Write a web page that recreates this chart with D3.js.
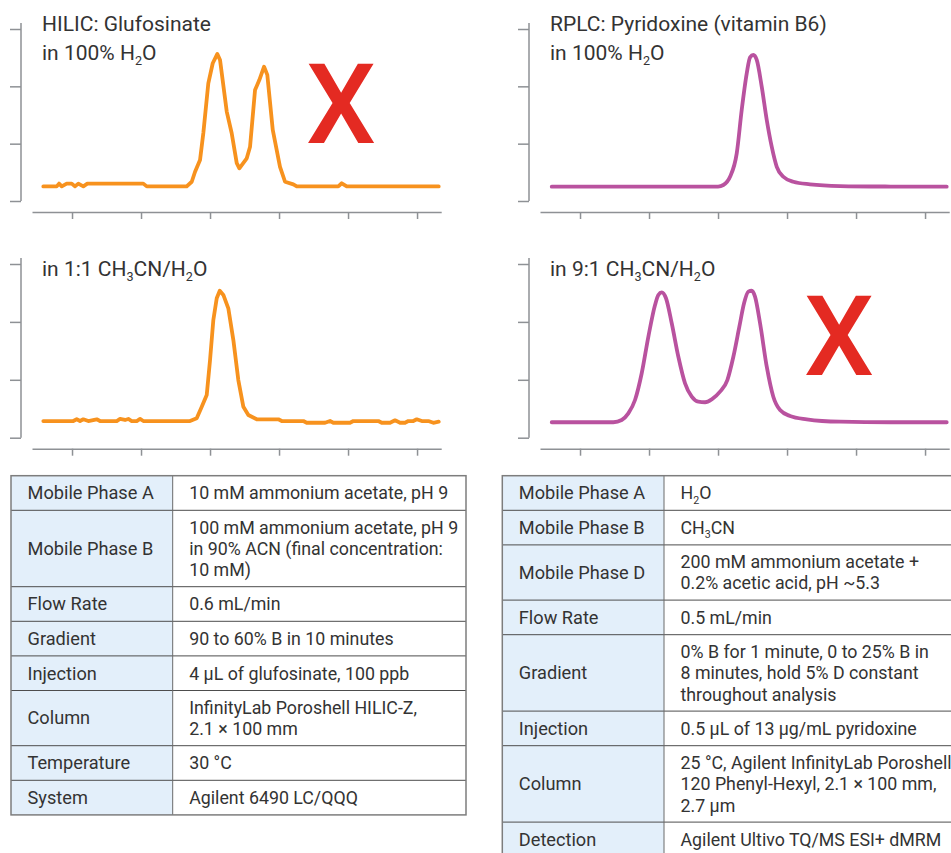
<!DOCTYPE html>
<html>
<head>
<meta charset="utf-8">
<script src="https://cdn.jsdelivr.net/npm/d3@7"></script>
<style>
  html, body { margin: 0; padding: 0; background: #fff; }
  svg { display: block; font-family: Roboto, "Noto Sans", sans-serif; }
</style>
</head>
<body>
<svg id="chart" width="951" height="853"></svg>
<script>
// Retention-time ticks (min) shared by all four chromatograms
const timeTicks = [1, 2, 3, 4, 5, 6];
// Relative intensity ticks (no labels shown)
const intensityTicks = [0, 100 / 3, 200 / 3, 100];

// HILIC glufosinate, injected in 100% water: split peak
const glufWater = [
  [0.584, 8.5], [0.778, 8.5], [0.812, 10.1], [0.851, 8.5], [0.923, 10.1], [0.996, 10.1],
  [1.043, 8.5], [1.091, 10.1], [1.164, 8.5], [1.222, 10.1], [2.033, 10.1], [2.083, 8.5],
  [2.662, 8.5], [2.735, 11.2], [2.783, 17.0], [2.855, 23.8], [2.903, 39.5], [2.975, 68.4],
  [3.039, 80.1], [3.106, 85.5], [3.145, 82.0], [3.242, 52.0], [3.314, 39.4], [3.387, 22.0],
  [3.425, 19.0], [3.532, 24.8], [3.580, 31.6], [3.652, 64.5], [3.714, 70.3], [3.783, 78.1],
  [3.830, 73.3], [3.909, 41.3], [4.014, 19.9], [4.087, 11.2], [4.207, 9.7], [4.257, 8.5],
  [4.859, 8.5], [4.909, 10.3], [4.981, 8.5], [6.314, 8.5]
];

// HILIC glufosinate, injected in 1:1 acetonitrile/water: single peak
const glufMixed = [
  [0.584, 9.6], [1.019, 9.6], [1.068, 10.6], [1.116, 9.6], [1.164, 10.6], [1.236, 9.6],
  [1.358, 10.6], [1.406, 9.6], [1.648, 9.6], [1.696, 10.8], [1.768, 10.2], [1.816, 10.8],
  [1.865, 9.6], [1.938, 9.6], [1.986, 10.8], [2.033, 9.6], [2.710, 9.6], [2.807, 11.2],
  [2.880, 17.8], [2.952, 24.6], [3.000, 44.7], [3.048, 67.8], [3.097, 80.3], [3.141, 84.6],
  [3.193, 82.2], [3.265, 74.5], [3.338, 56.2], [3.410, 33.2], [3.483, 17.8], [3.555, 13.1],
  [3.677, 10.6], [3.990, 10.6], [4.039, 9.6], [4.352, 9.6], [4.401, 8.6], [4.667, 8.6],
  [4.739, 9.6], [4.787, 8.6], [5.029, 8.6], [5.077, 9.6], [5.439, 9.6], [5.488, 8.6],
  [5.609, 8.6], [5.681, 10.0], [5.754, 8.6], [5.826, 8.6], [5.874, 9.6], [5.946, 9.6],
  [5.996, 10.6], [6.068, 9.6], [6.164, 9.6], [6.236, 8.6], [6.314, 9.2]
];

// RPLC pyridoxine, injected in 100% water: single peak
const pyrWater = [
  [0.590, 8.3], [2.500, 8.3], [3.000, 8.4], [3.077, 9.3], [3.174, 14.1], [3.271, 27.7],
  [3.343, 52.9], [3.416, 74.2], [3.464, 83.5], [3.512, 84.9], [3.561, 82.0], [3.633, 66.5],
  [3.706, 47.1], [3.778, 31.6], [3.851, 19.9], [3.946, 14.1], [4.091, 11.2], [4.333, 9.7],
  [4.768, 8.7], [5.500, 8.4], [6.314, 8.3]
];

// RPLC pyridoxine, injected in 9:1 acetonitrile/water: split peak
const pyrOrganic = [
  [0.590, 8.9], [1.483, 8.9], [1.604, 10.2], [1.700, 14.0], [1.797, 21.7], [1.894, 37.1],
  [1.990, 58.1], [2.087, 76.4], [2.135, 82.2], [2.184, 83.7], [2.246, 80.3], [2.329, 65.9],
  [2.425, 46.6], [2.522, 31.3], [2.619, 23.6], [2.714, 20.7], [2.812, 20.4], [2.909, 22.1],
  [3.029, 26.5], [3.135, 33.2], [3.222, 46.6], [3.309, 63.9], [3.377, 77.4], [3.439, 84.1],
  [3.488, 84.6], [3.536, 81.2], [3.609, 65.9], [3.706, 40.9], [3.801, 23.6], [3.899, 15.9],
  [4.043, 12.5], [4.286, 10.6], [4.768, 9.2], [5.500, 8.9], [6.314, 8.9]
];

// Panel titles ("_n" marks a subscript digit)
const panelTitles = [
  ["HILIC: Glufosinate", "in 100% H_2O"],
  ["RPLC: Pyridoxine (vitamin B6)", "in 100% H_2O"],
  ["in 1:1 CH_3CN/H_2O"],
  ["in 9:1 CH_3CN/H_2O"]
];
// Which injection conditions fail (marked with a red X)
const panelFails = [true, false, false, true];

// HILIC method conditions
const hilicLabels = ["Mobile Phase A", "Mobile Phase B", "Flow Rate", "Gradient",
  "Injection", "Column", "Temperature", "System"];
const hilicValues = [
  ["10 mM ammonium acetate, pH 9"],
  ["100 mM ammonium acetate, pH 9", "in 90% ACN (final concentration:", "10 mM)"],
  ["0.6 mL/min"],
  ["90 to 60% B in 10 minutes"],
  ["4 µL of glufosinate, 100 ppb"],
  ["InfinityLab Poroshell HILIC-Z,", "2.1 × 100 mm"],
  ["30 °C"],
  ["Agilent 6490 LC/QQQ"]
];

// RPLC method conditions
const rplcLabels = ["Mobile Phase A", "Mobile Phase B", "Mobile Phase D", "Flow Rate",
  "Gradient", "Injection", "Column", "Detection"];
const rplcValues = [
  ["H_2O"],
  ["CH_3CN"],
  ["200 mM ammonium acetate +", "0.2% acetic acid, pH ~5.3"],
  ["0.5 mL/min"],
  ["0% B for 1 minute, 0 to 25% B in", "8 minutes, hold 5% D constant", "throughout analysis"],
  ["0.5 µL of 13 µg/mL pyridoxine"],
  ["25 °C, Agilent InfinityLab Poroshell", "120 Phenyl-Hexyl, 2.1 × 100 mm,", "2.7 µm"],
  ["Agilent Ultivo TQ/MS ESI+ dMRM"]
];

// ---- drawing ----
const svg = d3.select("#chart");
const ORANGE = "#f7921e", MAGENTA = "#b9529f", RED = "#e42a22";
const AXIS = "#8e9195", TEXT = "#333333";

// write a string with "_n" subscripts into a text element
function richText(sel, str, size) {
  const parts = str.split(/_(\d)/);
  parts.forEach((p, i) => {
    if (p === "") return;
    if (i % 2 === 1) {
      sel.append("tspan").attr("font-size", size * 0.6).attr("dy", size * 0.24).text(p);
    } else {
      const t = sel.append("tspan").text(p);
      if (i > 0) t.attr("dy", -size * 0.24);
    }
  });
}

const panelData = [glufWater, pyrWater, glufMixed, pyrOrganic];
const panelColors = [ORANGE, MAGENTA, ORANGE, MAGENTA];
const panelSmooth = [false, true, false, true];
const TITLE_FS = 21;

panelData.forEach((data, i) => {
  const col = i % 2, row = Math.floor(i / 2);
  const ox = col * 508;
  const yZero = row ? 437.7 : 201;
  const yFull = row ? 264 : 29;
  const g = svg.append("g");

  const x = d3.scaleLinear().domain([0.42, 6.35]).range([32 + ox, 441.2 + ox]);
  const y = d3.scaleLinear().domain([0, 100]).range([yZero, yFull]);

  // x axis (ticks only, no labels)
  const xAx = g.append("g").attr("transform", `translate(0,${yZero + 11})`)
    .call(d3.axisBottom(x).tickValues(timeTicks).tickSize(7).tickSizeOuter(0).tickFormat(""));
  xAx.select(".domain").attr("stroke", AXIS).attr("stroke-width", 1.5);
  xAx.selectAll(".tick line").attr("stroke", AXIS).attr("stroke-width", 1.5);

  // y axis (ticks only, no labels)
  const yAx = g.append("g").attr("transform", `translate(${21 + ox},0)`)
    .call(d3.axisLeft(y).tickValues(intensityTicks).tickSize(11).tickSizeOuter(0).tickFormat(""));
  yAx.select(".domain").attr("stroke", AXIS).attr("stroke-width", 1.5)
    .attr("d", `M0,${yZero}V${yFull - 6}`);
  yAx.selectAll(".tick line").attr("stroke", AXIS).attr("stroke-width", 1.5);

  // trace
  const line = d3.line()
    .x(d => x(d[0])).y(d => y(d[1]))
    .curve(panelSmooth[i] ? d3.curveMonotoneX : d3.curveLinear);
  g.append("path").datum(data)
    .attr("fill", "none").attr("stroke", panelColors[i]).attr("stroke-width", 3.8)
    .attr("stroke-linejoin", "round").attr("stroke-linecap", "round")
    .attr("d", line);

  // titles
  panelTitles[i].forEach((t, k) => {
    const tx = g.append("text").attr("x", 42 + ox).attr("y", (row ? 276 : 31) + k * 29)
      .attr("font-size", TITLE_FS).attr("fill", TEXT);
    richText(tx, t, TITLE_FS);
  });

  // fail marker
  if (panelFails[i]) {
    g.append("text")
      .attr("x", row ? 839 : 341).attr("y", row ? 375 : 143)
      .attr("text-anchor", "middle").attr("font-size", 111).attr("font-weight", 500)
      .attr("fill", RED).text("X");
  }
});

// ---- method tables ----
const LINE_H = 21.3, LABEL_FS = 18.2, VALUE_FS = 17.8;
function rowHeight(n) { return n === 1 ? 34.6 : n === 2 ? 55.2 : 76.4; }

function drawTable(labels, values, x0, x1, x2, y0) {
  const g = svg.append("g");
  let yy = y0;
  const rows = values.map((v, i) => {
    const h = rowHeight(v.length);
    const r = { label: labels[i], lines: v, y: yy, h };
    yy += h;
    return r;
  });
  // label column fill
  g.append("rect").attr("x", x0).attr("y", y0).attr("width", x1 - x0).attr("height", yy - y0)
    .attr("fill", "#e3effa");
  // row separators
  g.selectAll("line.sep").data(rows.slice(1)).join("line")
    .attr("x1", x0).attr("x2", x2).attr("y1", d => d.y).attr("y2", d => d.y)
    .attr("stroke", "#4d4d4d").attr("stroke-width", 1);
  // column divider
  g.append("line").attr("x1", x1).attr("x2", x1).attr("y1", y0).attr("y2", yy)
    .attr("stroke", "#6b6b6b").attr("stroke-width", 1);
  // outer frame
  g.append("rect").attr("x", x0).attr("y", y0).attr("width", x2 - x0).attr("height", yy - y0)
    .attr("fill", "none").attr("stroke", "#7d7d7d").attr("stroke-width", 1.5);

  rows.forEach(r => {
    const cy = r.y + r.h / 2 + 6.3;
    g.append("text").attr("x", x0 + 16.5).attr("y", cy)
      .attr("font-size", LABEL_FS).attr("fill", TEXT).text(r.label);
    r.lines.forEach((ln, k) => {
      const t = g.append("text").attr("x", x1 + 16.5)
        .attr("y", cy + (k - (r.lines.length - 1) / 2) * LINE_H)
        .attr("font-size", VALUE_FS).attr("fill", TEXT);
      richText(t, ln, VALUE_FS);
    });
  });
}

drawTable(hilicLabels, hilicValues, 11, 172.7, 466, 475.7);
drawTable(rplcLabels, rplcValues, 502.3, 664, 980, 475.7);
</script>
</body>
</html>
